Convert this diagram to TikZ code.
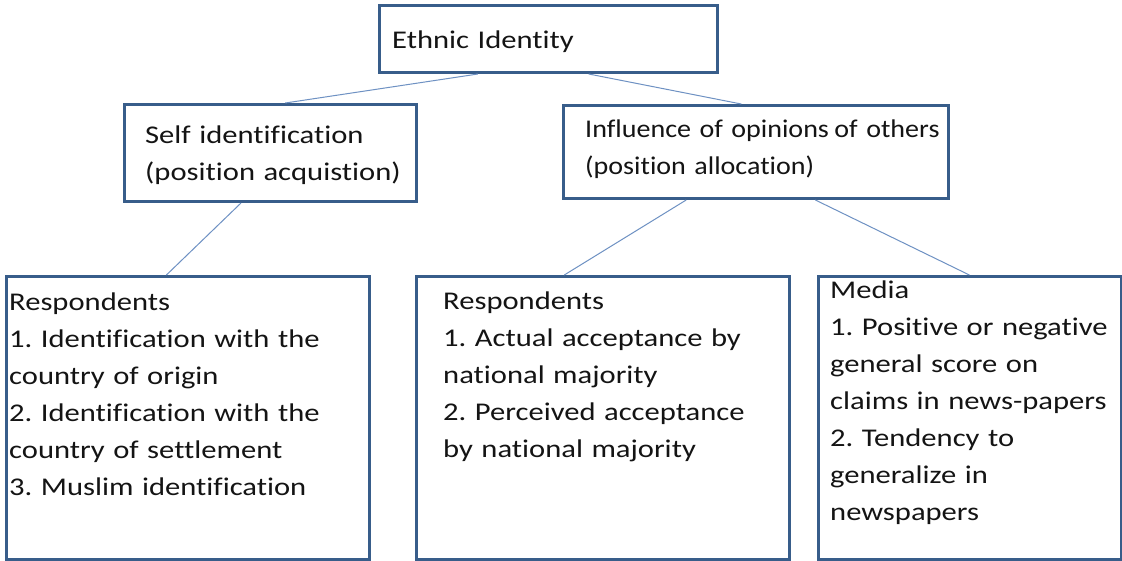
\documentclass[tikz,border=0pt]{standalone}
\usepackage{fontspec}
\setmainfont{Carlito}[FakeStretch=1.2, RawFeature=-liga]
\usetikzlibrary{calc}
\definecolor{boxline}{RGB}{56,93,138}
\definecolor{conn}{RGB}{110,145,195}
\definecolor{txt}{RGB}{20,20,20}
\tikzset{
  box/.style={draw=boxline, line width=3pt, fill=white, rectangle, inner sep=0pt, anchor=north west},
  lbl/.style={anchor=base west, inner sep=0pt, align=left, text=txt, text width=1000pt,
    font=\fontsize{25.5}{37}\selectfont\frenchspacing},
  link/.style={draw=conn, line width=1pt}
}
\begin{document}
\begin{tikzpicture}[x=1pt,y=-1pt]
\useasboundingbox[fill=white] (0,0) rectangle (1122,560);
% boxes
\node[box, minimum width=338pt, minimum height=67pt] (top) at (378,4) {};
\node[box, minimum width=292pt, minimum height=97pt] (self) at (123,103) {};
\node[box, minimum width=385pt, minimum height=93pt] (infl) at (562,104) {};
\node[box, minimum width=363pt, minimum height=283pt] (bl) at (5,275) {};
\node[box, minimum width=373pt, minimum height=283pt] (bm) at (415,275) {};
\node[box, minimum width=303pt, minimum height=283pt] (br) at (817,275) {};
% texts
\node[lbl] (ttop) at (392,48) {Ethnic Identity};
\node[lbl] (tself) at (145,143) {Self identification\\(position acquistion)};
\node[lbl] (tinfl) at (585,137) {\addfontfeatures{FakeStretch=1.1}Influence of opinions\hspace{-3pt} of others\\(position allocation)};
\node[lbl] (tbl) at (9,310) {Respondents\\1. Identification with the\\country of origin\\2. Identification with the\\country of settlement\\3. Muslim identification};
\node[lbl] (tbm) at (443,309) {Respondents\\1. Actual acceptance by\\national majority\\2. Perceived acceptance\\by national majority};
\node[lbl] (tbr) at (830,298) {Media\\1. Positive or negative\\general score on\\claims in news-papers\\2. Tendency to\\generalize in\\newspapers};
% connectors
\draw[link] ($(top.south west)!0.293!(top.south east)$) -- ($(self.north west)!0.55!(self.north east)$);
\draw[link] ($(top.south west)!0.618!(top.south east)$) -- ($(infl.north west)!0.462!(infl.north east)$);
\draw[link] ($(self.south west)!0.40!(self.south east)$) -- ($(bl.north west)!0.441!(bl.north east)$);
\draw[link] ($(infl.south west)!0.32!(infl.south east)$) -- ($(bm.north west)!0.397!(bm.north east)$);
\draw[link] ($(infl.south west)!0.653!(infl.south east)$) -- ($(br.north west)!0.498!(br.north east)$);
\end{tikzpicture}
\end{document}
